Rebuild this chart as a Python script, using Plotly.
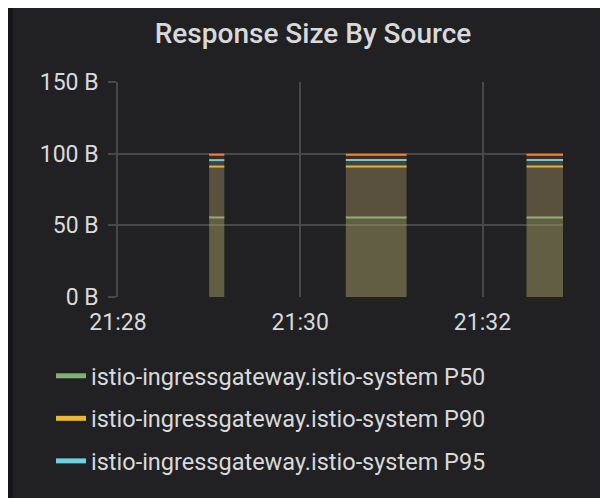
import plotly.graph_objects as go

# ---- data ----
DAY = "2018-06-20 "
times = ["21:29:00", "21:29:10", None,
         "21:30:30", "21:30:40", "21:30:50", "21:31:00", "21:31:10", None,
         "21:32:29", "21:32:40", "21:32:50", "21:33:00"]
p50 = [55.5, 55.5, None, 55.5, 55.5, 55.5, 55.5, 55.5, None, 55.5, 55.5, 55.5, 55.5]
p90 = [91.0, 91.0, None, 91.0, 91.0, 91.0, 91.0, 91.0, None, 91.0, 91.0, 91.0, 91.0]
p95 = [95.5, 95.5, None, 95.5, 95.5, 95.5, 95.5, 95.5, None, 95.5, 95.5, 95.5, 95.5]
p99 = [99.3, 99.3, None, 99.3, 99.3, 99.3, 99.3, 99.3, None, 99.3, 99.3, 99.3, 99.3]

series_names = ["istio-ingressgateway.istio-system P50",
                "istio-ingressgateway.istio-system P90",
                "istio-ingressgateway.istio-system P95",
                "istio-ingressgateway.istio-system P99"]
series_values = [p50, p90, p95, p99]
series_colors = ["#7EB26D", "#EAB839", "#6ED0E0", "#EF843C"]
legend_shown = [True, True, True, False]

y_ticks = [0, 50, 100, 150]
y_tick_labels = ["0 B", "50 B", "100 B", "150 B"]
x_start, x_end = "21:28:00", "21:32:53"

# ---- style ----
W, H = 608, 498
OFF = 8  # page body margin
ML, MR, MT, MB = 118 - OFF, 608 - (563 - OFF), 82 - OFF, 498 - (297 - OFF)
PANEL = "#212124"
OUTER = "#161719"
GRID = "#48484b"
TEXT = "#d8d9da"
FONT = "Roboto"

def rgba(hexc, a):
    h = hexc.lstrip("#")
    r, g, b = int(h[0:2], 16), int(h[2:4], 16), int(h[4:6], 16)
    return f"rgba({r},{g},{b},{a})"

def segments(xv, yv):
    segs, cx, cy = [], [], []
    for xx, yy in zip(xv, yv):
        if xx is None or yy is None:
            if cx:
                segs.append((cx, cy))
            cx, cy = [], []
        else:
            cx.append(DAY + xx)
            cy.append(yy)
    if cx:
        segs.append((cx, cy))
    return segs

fig = go.Figure()
for name, vals, col in zip(series_names, series_values, series_colors):
    for sx, sy in segments(times, vals):
        fig.add_trace(go.Scatter(
            x=sx, y=sy, mode="lines", name=name,
            line=dict(color=col, width=2),
            fill="tozeroy", fillcolor=rgba(col, 0.135),
            showlegend=False, hoverinfo="skip"))

for i, (name, col, show) in enumerate(zip(series_names, series_colors, legend_shown)):
    if show:
        fig.add_trace(go.Scatter(
            x=[None], y=[None], mode="lines", name=name,
            line=dict(color=col, width=5), legendgroup=f"g{i}",
            showlegend=True))

pw = W - ML - MR
ph = H - MT - MB
shapes = [
    dict(type="rect", xref="paper", yref="paper", layer="below",
         x0=-ML / pw, x1=(13 - OFF - ML) / pw, y0=-MB / ph, y1=(H - MB) / ph,
         fillcolor=OUTER, line=dict(width=0)),
]

fig.update_layout(
    width=W, height=H,
    margin=dict(l=ML, r=MR, t=MT, b=MB, autoexpand=False),
    paper_bgcolor=PANEL, plot_bgcolor=PANEL,
    font=dict(family=FONT, color=TEXT, size=23),
    title=dict(text="Response Size By Source", xref="container", yref="container",
               x=(313 - OFF) / W, xanchor="center", y=1 - (33 - OFF) / H, yanchor="middle",
               font=dict(family=FONT, size=28, color=TEXT, weight=500)),
    xaxis=dict(type="date", range=[DAY + x_start, DAY + x_end],
               tickformat="%H:%M", dtick=120000, tick0=DAY + "21:28:00",
               showgrid=True, gridcolor=GRID, gridwidth=1.6,
               showline=False, zeroline=False, ticks="",
               tickfont=dict(size=23, color=TEXT), ticklabelstandoff=9,
               automargin=False),
    yaxis=dict(range=[0, 150], tickvals=y_ticks, ticktext=y_tick_labels,
               showgrid=True, gridcolor=GRID, gridwidth=1.6,
               showline=True, linecolor=GRID, linewidth=1.6,
               zeroline=False, ticks="outside", ticklen=8, tickcolor=GRID, tickwidth=1.6,
               tickfont=dict(size=23, color=TEXT), ticklabelstandoff=5,
               automargin=False),
    legend=dict(xref="container", yref="container", x=(51 - OFF) / W,
                y=1 - (354 - OFF) / H,
                xanchor="left", yanchor="top", bgcolor="rgba(0,0,0,0)",
                font=dict(size=23.5, color=TEXT), tracegroupgap=9,
                itemwidth=30),
    shapes=shapes,
    showlegend=True,
)

fig.write_html("out.html")
